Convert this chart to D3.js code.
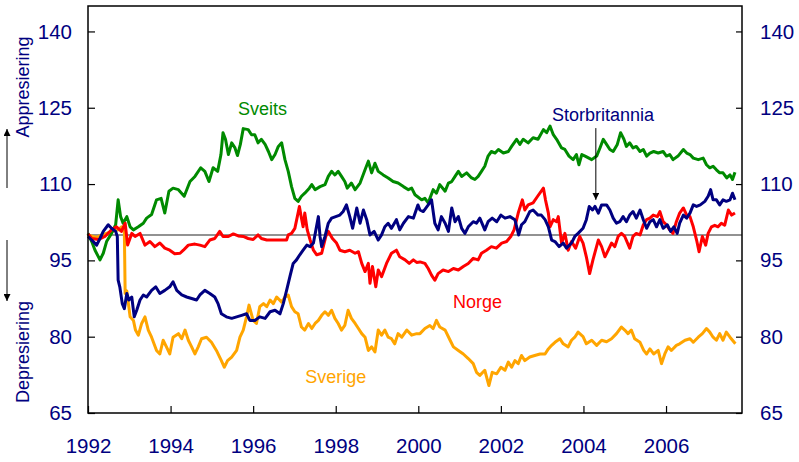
<!DOCTYPE html>
<html><head><meta charset="utf-8">
<script src="https://cdn.jsdelivr.net/npm/d3@7/dist/d3.min.js"></script>
<style>
html,body{margin:0;padding:0;background:#fff;}
svg{display:block;font-family:"Liberation Sans",Arial,sans-serif;}
</style></head>
<body><svg id="chart" width="799" height="462"></svg>
<script>
// ---- data (year fraction, index value) ----
const yTicks = [65, 80, 95, 110, 125, 140];
const xTicks = [1992, 1994, 1996, 1998, 2000, 2002, 2004, 2006];

const sveits = [
[1992.0,100.3],[1992.09,98.7],[1992.17,97.0],[1992.29,95.1],[1992.37,96.4],[1992.45,98.7],[1992.57,100.3],[1992.67,102],[1992.73,106.9],[1992.79,103.6],[1992.85,102.3],[1992.94,103.6],[1993.02,101.6],[1993.10,101],[1993.22,101.6],[1993.34,102.3],[1993.42,103.3],[1993.54,104],[1993.66,106.9],[1993.77,107.2],[1993.86,104.3],[1993.96,108.6],[1994.06,109.2],[1994.19,108.9],[1994.33,107.6],[1994.47,110.5],[1994.59,111.5],[1994.73,113.2],[1994.83,112.5],[1994.93,110.5],[1995.03,113.2],[1995.14,112.5],[1995.22,115.8],[1995.27,120.1],[1995.33,118.8],[1995.40,115.8],[1995.48,118.1],[1995.56,117.1],[1995.62,115.6],[1995.69,117.8],[1995.76,120.9],[1995.88,120.7],[1995.96,119.7],
[1996.04,119.7],[1996.12,118.1],[1996.2,118.8],[1996.29,117.8],[1996.37,116.4],[1996.45,114.8],[1996.53,115.8],[1996.61,117.4],[1996.69,118.1],[1996.77,114.8],[1996.85,112.5],[1996.93,109.5],[1997.01,107.2],[1997.09,106.6],[1997.17,107.6],[1997.25,108.2],[1997.36,109.2],[1997.42,109.9],[1997.5,108.9],[1997.62,109.5],[1997.74,109.9],[1997.82,111.5],[1997.9,112.5],[1997.98,111.8],[1998.06,112.5],[1998.14,111.5],[1998.22,110.5],[1998.28,109.2],[1998.38,110.2],[1998.47,108.9],[1998.59,110.2],[1998.71,112.8],[1998.79,114.5],[1998.87,112.2],[1998.95,114.1],[1999.03,112.5],[1999.15,111.8],[1999.27,111.2],[1999.39,110.5],[1999.51,110.2],[1999.64,109.5],[1999.76,108.9],[1999.84,109.2],[1999.92,107.9],
[2000.0,107.4],[2000.08,106.9],[2000.16,107.2],[2000.24,106.3],[2000.36,108.9],[2000.44,108.2],[2000.52,109.9],[2000.65,108.6],[2000.73,110.2],[2000.81,110.5],[2000.89,111.5],[2000.97,112.5],[2001.05,111.5],[2001.17,112.2],[2001.29,111.2],[2001.37,110.9],[2001.45,111.5],[2001.53,112.5],[2001.61,113.5],[2001.69,115.5],[2001.77,116.4],[2001.86,116.1],[2001.94,116.8],[2002.06,116.1],[2002.18,116.4],[2002.26,117.4],[2002.38,118.8],[2002.46,117.8],[2002.54,118.8],[2002.66,118.1],[2002.78,119.1],[2002.9,118.8],[2003.03,120.7],[2003.11,120.1],[2003.19,121.4],[2003.27,119.7],[2003.35,118.8],[2003.47,117.1],[2003.55,116.8],[2003.65,115.5],[2003.75,114.8],[2003.83,115.8],[2003.89,113.8],
[2003.96,115.8],[2004.04,115.5],[2004.2,114.8],[2004.32,115.5],[2004.4,117.1],[2004.48,118.8],[2004.56,117.8],[2004.64,116.8],[2004.72,116.4],[2004.82,117.8],[2004.9,120.1],[2004.98,118.8],[2005.04,117.4],[2005.12,118.1],[2005.2,117.1],[2005.28,117.4],[2005.37,116.4],[2005.45,116.8],[2005.53,115.5],[2005.61,116.1],[2005.7,116.4],[2005.81,116.1],[2005.93,116.4],[2006.01,115.5],[2006.09,115.8],[2006.17,114.8],[2006.29,115.5],[2006.42,116.8],[2006.5,116.1],[2006.58,115.8],[2006.66,115.1],[2006.78,114.8],[2006.9,115.1],[2006.98,113.8],[2007.06,113.2],[2007.14,113.5],[2007.22,112.8],[2007.3,112.2],[2007.38,112.2],[2007.47,111.2],[2007.55,111.8],[2007.61,110.9],[2007.67,112.3]
];

const norge = [
[1992.0,100.2],[1992.09,99.3],[1992.25,99.1],[1992.41,99.7],[1992.57,101],[1992.69,101.6],[1992.81,100.7],[1992.9,102.3],[1992.96,98],[1993.06,100.3],[1993.14,99.7],[1993.26,100.3],[1993.38,98],[1993.5,98.7],[1993.62,97.7],[1993.74,98.4],[1993.86,97.4],[1993.98,97],[1994.1,96.3],[1994.23,96.4],[1994.31,97],[1994.43,98],[1994.59,98.2],[1994.71,98],[1994.83,97.7],[1994.95,99],[1995.07,99.3],[1995.19,100.7],[1995.27,99.7],[1995.4,99.7],[1995.52,100.2],[1995.64,99.8],[1995.76,99.7],[1995.88,99.3],[1996.0,99.1],
[1996.12,100],[1996.2,99.3],[1996.33,99],[1996.5,99],[1996.7,99],[1996.81,99],[1996.85,100],[1996.93,100.3],[1997.01,101.3],[1997.07,103.6],[1997.12,105.6],[1997.17,103.3],[1997.21,101.6],[1997.25,104.3],[1997.31,101],[1997.38,99],[1997.46,97],[1997.54,96.1],[1997.66,96.4],[1997.76,99.7],[1997.82,100.7],[1997.92,99.3],[1998.02,98.4],[1998.1,97],[1998.22,96.7],[1998.34,97],[1998.47,96.4],[1998.55,96.7],[1998.63,94.4],[1998.71,92.8],[1998.79,94.4],[1998.83,90.5],[1998.89,93.8],[1998.97,89.8],[1999.03,93.1],[1999.11,91.8],[1999.23,94.4],[1999.35,96.4],[1999.47,97],[1999.55,95.7],[1999.68,95.1],[1999.78,94.4],[1999.88,95.1],
[1999.96,94.6],[2000.04,94.7],[2000.16,94.4],[2000.24,93.4],[2000.32,92.1],[2000.4,91.1],[2000.48,92.4],[2000.6,93.1],[2000.73,92.8],[2000.85,93.4],[2000.97,93.1],[2001.09,93.8],[2001.21,94.4],[2001.33,95.4],[2001.45,95.1],[2001.53,96.4],[2001.65,97],[2001.77,97.7],[2001.89,97.4],[2002.02,98.4],[2002.14,98.7],[2002.24,99.7],[2002.32,101],[2002.42,104.3],[2002.52,106.9],[2002.58,104.9],[2002.66,105.9],[2002.78,106.3],[2002.89,107.6],[2003.03,109.2],[2003.08,106.9],[2003.15,104.3],[2003.19,101.6],[2003.27,103],[2003.35,102.6],[2003.39,103.6],[2003.47,98.4],[2003.55,100.3],[2003.63,97],[2003.71,98.7],[2003.81,97.4],[2003.91,99.7],
[2003.99,98.4],[2004.07,95.7],[2004.15,92.4],[2004.23,95.1],[2004.36,99],[2004.44,97.7],[2004.52,95.7],[2004.6,97],[2004.68,98.4],[2004.76,97.7],[2004.84,99.7],[2004.92,100.3],[2005.0,99.7],[2005.12,97.4],[2005.2,99.7],[2005.28,100.3],[2005.37,100],[2005.45,102],[2005.53,103],[2005.61,103.3],[2005.69,103.9],[2005.79,103.6],[2005.85,104.6],[2005.93,102.6],[2006.01,102],[2006.09,101],[2006.17,100.3],[2006.25,102.6],[2006.33,104.3],[2006.42,105.3],[2006.5,103.9],[2006.58,103.6],[2006.66,101.6],[2006.74,99],[2006.8,96.7],[2006.88,99.7],[2006.96,98],[2007.02,100.3],[2007.1,101.6],[2007.18,101.9],[2007.26,101.6],[2007.34,102.3],[2007.42,101.9],[2007.51,104.9],[2007.59,103.9],[2007.67,104.3]
];

const storbritannia = [
[1992.0,99.7],[1992.09,99],[1992.21,98],[1992.29,99.3],[1992.37,100.7],[1992.49,102],[1992.57,101.3],[1992.67,100.7],[1992.71,99.7],[1992.73,91.1],[1992.77,89.8],[1992.83,86.5],[1992.88,85.5],[1992.94,88.5],[1992.99,87.2],[1993.06,87.8],[1993.12,83.9],[1993.18,85.2],[1993.26,87.2],[1993.34,88.2],[1993.42,87.8],[1993.54,89.1],[1993.64,89.8],[1993.74,88.5],[1993.86,89.1],[1993.98,89.8],[1994.06,90.8],[1994.15,89.1],[1994.27,88.2],[1994.39,87.8],[1994.51,87.5],[1994.63,87.2],[1994.71,88.2],[1994.83,89.1],[1994.95,88.5],[1995.07,87.8],[1995.15,86.5],[1995.23,84.5],[1995.35,83.9],[1995.48,83.6],[1995.6,83.9],[1995.72,84.2],[1995.84,84.5],[1995.92,83.2],
[1996.04,83.2],[1996.16,83.9],[1996.29,83.6],[1996.41,84.9],[1996.53,85.2],[1996.65,84.5],[1996.73,86.5],[1996.81,89.1],[1996.89,91.8],[1996.97,94.4],[1997.05,95.1],[1997.13,96.1],[1997.21,97],[1997.3,98],[1997.38,97.7],[1997.46,98.4],[1997.52,101],[1997.58,103.6],[1997.62,99.7],[1997.66,97.7],[1997.74,99.7],[1997.82,102.3],[1997.9,103.3],[1998.0,103.6],[1998.1,103.9],[1998.18,104.6],[1998.26,105.9],[1998.34,103.6],[1998.41,101.3],[1998.51,105.3],[1998.59,102.3],[1998.67,104.9],[1998.75,103],[1998.83,100],[1998.93,100.7],[1999.03,99],[1999.11,100],[1999.19,101.6],[1999.27,102.3],[1999.35,101.3],[1999.47,103],[1999.55,101],[1999.64,102.3],[1999.76,103.6],[1999.88,103.3],[1999.99,105.9],
[2000.04,104.9],[2000.12,104.6],[2000.24,105.9],[2000.32,106.9],[2000.4,102.3],[2000.48,101],[2000.56,103.6],[2000.65,102.3],[2000.73,100.7],[2000.81,105.3],[2000.89,102.6],[2000.97,103.6],[2001.05,101.3],[2001.13,100.3],[2001.21,101.6],[2001.33,102.6],[2001.41,102.3],[2001.49,103.3],[2001.61,101],[2001.69,102.6],[2001.79,103.3],[2001.9,102.6],[2002.0,103.9],[2002.1,103.3],[2002.22,103.6],[2002.34,103],[2002.43,100],[2002.5,102],[2002.58,102.6],[2002.7,104.6],[2002.78,104.9],[2002.9,103.9],[2002.98,103.9],[2003.07,103],[2003.15,101.6],[2003.23,99],[2003.31,98.7],[2003.41,97.7],[2003.51,98.4],[2003.59,97.4],[2003.71,98.4],[2003.79,99.7],[2003.87,100.3],
[2003.99,101.3],[2004.07,103],[2004.14,105.6],[2004.22,104.9],[2004.28,105.6],[2004.36,104.3],[2004.44,105.9],[2004.56,105.9],[2004.64,104.9],[2004.72,103.3],[2004.8,102.3],[2004.88,102.6],[2004.96,103.6],[2005.04,102.6],[2005.12,103.9],[2005.2,104.6],[2005.28,103.3],[2005.37,104.9],[2005.45,103],[2005.53,101.3],[2005.61,102.6],[2005.69,103],[2005.77,101.6],[2005.85,103],[2005.93,101.3],[2006.03,102],[2006.11,100.7],[2006.19,101.6],[2006.27,100.3],[2006.33,102.3],[2006.42,103.9],[2006.5,103.3],[2006.58,104.3],[2006.66,105.9],[2006.74,105.6],[2006.83,105.9],[2006.94,106.6],[2007.02,107.6],[2007.08,108.9],[2007.14,106.9],[2007.22,106.9],[2007.3,105.9],[2007.38,106.9],[2007.46,106.6],[2007.55,106.9],[2007.61,108.2],[2007.67,106.9]
];

const sverige = [
[1992.0,100],[1992.2,99.5],[1992.41,100.2],[1992.55,100.6],[1992.73,101],[1992.81,101.6],[1992.88,101],[1992.9,88.5],[1992.94,89],[1993.02,83.9],[1993.1,83.2],[1993.15,81.3],[1993.22,80.3],[1993.3,82.6],[1993.38,83.9],[1993.46,81.3],[1993.54,79.9],[1993.66,77.3],[1993.74,76.6],[1993.82,79.3],[1993.9,78],[1993.98,76.6],[1994.06,79.9],[1994.19,80.6],[1994.27,79.6],[1994.35,81.3],[1994.43,79.3],[1994.51,78],[1994.59,76.6],[1994.67,78],[1994.75,79.6],[1994.87,79.9],[1994.99,78.9],[1995.11,77.3],[1995.23,75.3],[1995.3,74],[1995.38,75.3],[1995.48,76],[1995.6,77.3],[1995.68,79.9],[1995.76,81.3],[1995.84,83.9],[1995.9,86.2],
[1996.0,83.2],[1996.08,82.6],[1996.16,85.9],[1996.25,86.5],[1996.33,85.9],[1996.41,87.2],[1996.49,86.5],[1996.57,87.8],[1996.69,86.8],[1996.77,87.8],[1996.85,88.2],[1996.93,85.9],[1997.01,84.9],[1997.09,84.5],[1997.17,81.9],[1997.25,81.3],[1997.34,82.6],[1997.42,81.6],[1997.5,82.6],[1997.58,83.2],[1997.66,84.2],[1997.74,84.9],[1997.82,84.2],[1997.9,85.2],[1997.98,83.6],[1998.06,82.6],[1998.14,81.3],[1998.22,82.2],[1998.3,85.2],[1998.38,83.6],[1998.47,82.6],[1998.55,81.6],[1998.63,80.6],[1998.71,79.9],[1998.79,77.3],[1998.87,78],[1998.95,77],[1999.03,81.3],[1999.11,80.3],[1999.19,81.3],[1999.27,79.9],[1999.35,79.6],[1999.43,78.6],[1999.51,80.6],[1999.6,79.9],[1999.72,81.3],[1999.84,80.3],[1999.96,80.6],
[2000.04,80.6],[2000.16,81.6],[2000.28,82.2],[2000.36,81.6],[2000.44,83.2],[2000.52,81.9],[2000.65,81.3],[2000.77,79.3],[2000.85,78],[2000.97,77.3],[2001.09,76.6],[2001.21,75.7],[2001.33,74.7],[2001.41,73],[2001.49,72.4],[2001.61,73.4],[2001.71,70.4],[2001.79,73],[2001.9,72.7],[2002.0,74],[2002.1,73.4],[2002.18,75],[2002.26,74],[2002.34,75.3],[2002.42,74.7],[2002.5,76.3],[2002.58,75.3],[2002.7,76],[2002.82,76.3],[2002.95,76.6],[2003.07,76.6],[2003.15,77.6],[2003.23,78.3],[2003.31,78.9],[2003.43,79.6],[2003.51,78.6],[2003.63,78],[2003.71,79.3],[2003.79,79.9],[2003.87,80.9],
[2003.99,80],[2004.07,78.6],[2004.2,79.3],[2004.32,78.3],[2004.44,79.3],[2004.56,79],[2004.68,79.6],[2004.8,80.6],[2004.92,81.9],[2005.0,81.3],[2005.08,80.6],[2005.16,81.3],[2005.24,79.6],[2005.37,78.9],[2005.46,77.3],[2005.53,76.6],[2005.61,77.6],[2005.7,76.6],[2005.81,77.3],[2005.89,74.7],[2005.97,76.6],[2006.05,78],[2006.13,77.3],[2006.25,78.3],[2006.33,78.6],[2006.46,79.3],[2006.58,79.6],[2006.66,78.9],[2006.78,79.9],[2006.88,80.6],[2006.98,81.6],[2007.06,80.9],[2007.14,79.9],[2007.22,79.3],[2007.3,80.6],[2007.38,79.3],[2007.46,80.9],[2007.55,79.9],[2007.61,79.3],[2007.68,78.6]
];

const seriesNames = ["Sverige", "Sveits", "Norge", "Storbritannia"];
const seriesData = [sverige, sveits, norge, storbritannia];
const seriesColors = ["#ffa500", "#008a00", "#ff0000", "#000080"];

// ---- drawing ----
const svg = d3.select("#chart");
const L = 88, R = 742, T = 6, B = 413;
const x = d3.scaleLinear().domain([1992, 2007.84]).range([L, R]);
const y = d3.scaleLinear().domain([65, 145]).range([B, T]);
const navy = "#000080";

const line = d3.line().x(d => x(d[0])).y(d => y(d[1]));
// reference line at 100
svg.append("line").attr("x1", L).attr("x2", R).attr("y1", y(100)).attr("y2", y(100))
  .attr("stroke", "#6e6e6e").attr("stroke-width", 1.6);

seriesData.forEach((s, i) => {
  svg.append("path").datum(s).attr("d", line)
    .attr("fill", "none").attr("stroke", seriesColors[i])
    .attr("stroke-width", 3).attr("stroke-linejoin", "round");
});

// frame
svg.append("rect").attr("x", L).attr("y", T).attr("width", R - L).attr("height", B - T)
  .attr("fill", "none").attr("stroke", "#000").attr("stroke-width", 1.5);

// axes
const fs = "20.5px";
const leftAxis = d3.axisLeft(y).tickValues(yTicks).tickSize(-7).tickPadding(16);
const rightAxis = d3.axisRight(y).tickValues(yTicks).tickSize(-6).tickPadding(18);
const bottomAxis = d3.axisBottom(x).tickValues(xTicks).tickFormat(d3.format("d")).tickSize(-7).tickPadding(25);

function styleAxis(g) {
  g.select(".domain").remove();
  g.selectAll(".tick line").attr("stroke", "#000").attr("stroke-width", 1.2);
  g.selectAll(".tick text").attr("fill", navy).style("font-size", fs)
    .style("font-family", "'Liberation Sans', Arial, sans-serif");
}
svg.append("g").attr("transform", `translate(${L},0)`).call(leftAxis).call(styleAxis);
svg.append("g").attr("transform", `translate(${R},0)`).call(rightAxis).call(styleAxis);
svg.append("g").attr("transform", `translate(0,${B})`).call(bottomAxis).call(styleAxis);

// series labels
const labels = [
  {text: "Sveits", t: 1995.63, v: 123.6, c: "#008a00"},
  {text: "Storbritannia", t: 2003.24, v: 122.4, c: navy},
  {text: "Norge", t: 2000.84, v: 85.6, c: "#ff0000"},
  {text: "Sverige", t: 1997.26, v: 70.9, c: "#ffa500"}
];
svg.selectAll("text.lab").data(labels).enter().append("text").attr("class", "lab")
  .attr("x", d => x(d.t)).attr("y", d => y(d.v))
  .attr("fill", d => d.c).style("font-size", "18px").text(d => d.text);

// arrow marker
const defs = svg.append("defs");
defs.append("marker").attr("id", "ah").attr("viewBox", "0 0 10 10")
  .attr("refX", 10).attr("refY", 5).attr("markerWidth", 7).attr("markerHeight", 7)
  .attr("markerUnits", "userSpaceOnUse").attr("orient", "auto")
  .append("path").attr("d", "M0,0 L10,5 L0,10 Z").attr("fill", "#000");

// Storbritannia pointer
svg.append("line").attr("x1", x(2004.3)).attr("x2", x(2004.3))
  .attr("y1", y(121.0)).attr("y2", y(106.9))
  .attr("stroke", "#000").attr("stroke-width", 1).attr("marker-end", "url(#ah)");

// y-axis titles and arrows
svg.append("text").attr("transform", "translate(29,87) rotate(-90)")
  .attr("text-anchor", "middle").attr("fill", navy).style("font-size", "18px").text("Appresiering");
svg.append("text").attr("transform", "translate(29,352) rotate(-90)")
  .attr("text-anchor", "middle").attr("fill", navy).style("font-size", "18px").text("Depresiering");
svg.append("line").attr("x1", 7).attr("x2", 7).attr("y1", 188).attr("y2", 129)
  .attr("stroke", "#000").attr("stroke-width", 1).attr("marker-end", "url(#ah)");
svg.append("line").attr("x1", 7).attr("x2", 7).attr("y1", 240).attr("y2", 301)
  .attr("stroke", "#000").attr("stroke-width", 1).attr("marker-end", "url(#ah)");
</script></body></html>
